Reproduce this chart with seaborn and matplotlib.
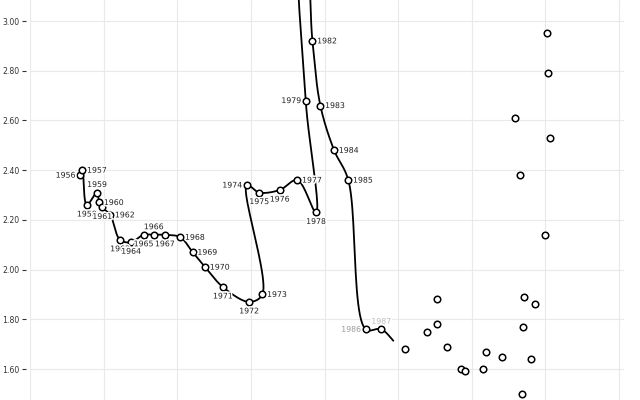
import numpy as np
import pandas as pd
import matplotlib
matplotlib.use("Agg")
import matplotlib.pyplot as plt
import matplotlib.patheffects as pe
import seaborn as sns

# miles driven per capita vs. gas price (2010 dollars), 1956-2010
years = list(range(1956, 2011))
miles = [3675, 3706, 3766, 3905, 3935, 3977, 4085, 4218, 4369, 4538,
         4676, 4827, 5038, 5207, 5376, 5617, 5973, 6154, 5943, 6111,
         6389, 6630, 6883, 6744, 6672, 6732, 6835, 6943, 7130, 7323,
         7558, 7770, 8089, 8397, 8529, 8535, 8662, 8855, 8909, 9150,
         9192, 9416, 9590, 9687, 9717, 9699, 9814, 9868, 9994, 10067,
         10037, 10025, 9880, 9657, 9596]
gas = [2.38, 2.40, 2.26, 2.31, 2.27, 2.25, 2.22, 2.12, 2.11, 2.14,
       2.14, 2.14, 2.13, 2.07, 2.01, 1.93, 1.87, 1.90, 2.34, 2.31,
       2.32, 2.36, 2.23, 2.68, 3.30, 3.30, 2.92, 2.66, 2.48, 2.36,
       1.76, 1.76, 1.68, 1.75, 1.88, 1.78, 1.69, 1.60, 1.59, 1.60,
       1.67, 1.65, 1.39, 1.50, 1.89, 1.77, 1.64, 1.86, 2.14, 2.53,
       2.79, 2.95, 3.31, 2.38, 2.61]
# label side for the years already revealed (1956-1987)
sides = ["left", "right", "bottom", "top", "right", "bottom", "right", "bottom",
         "bottom", "bottom", "top", "bottom", "right", "right", "right", "bottom",
         "bottom", "right", "left", "bottom", "bottom", "right", "bottom", "left",
         "left", "left", "right", "right", "right", "right", "left", "top"]
yticks = [1.60, 1.80, 2.00, 2.20, 2.40, 2.60, 2.80, 3.00]

df = pd.DataFrame({"year": years, "miles": miles, "gas": gas})

# pixel scale of the chart, used so the curve bends like the original
XK, YK = 0.0735, 248.6


def catmull_rom(xs, ys, n=24, alpha=0.5):
    # centripetal catmull-rom (d3.curveCatmullRom) as bezier segments
    p = np.column_stack([np.asarray(xs) * XK, np.asarray(ys) * YK]).astype(float)
    p = np.vstack([p[:1], p, p[-1:]])
    t = np.linspace(0, 1, n)[:, None]
    segs = []
    for i in range(1, len(p) - 2):
        p0, p1, p2, p3 = p[i - 1], p[i], p[i + 1], p[i + 2]
        l01 = np.hypot(*(p1 - p0))
        l12 = np.hypot(*(p2 - p1))
        l23 = np.hypot(*(p3 - p2))
        l01a, l12a, l23a = l01 ** alpha, l12 ** alpha, l23 ** alpha
        l01b, l12b, l23b = l01 ** (2 * alpha), l12 ** (2 * alpha), l23 ** (2 * alpha)
        b1 = p1.copy()
        if l01 > 1e-9:
            a = 2 * l01b + 3 * l01a * l12a + l12b
            m = 3 * l01a * (l01a + l12a)
            b1 = (p1 * a - p0 * l12b + p2 * l01b) / m
        b2 = p2.copy()
        if l23 > 1e-9:
            b = 2 * l23b + 3 * l23a * l12a + l12b
            m = 3 * l23a * (l23a + l12a)
            b2 = (p2 * b + p1 * l23b - p3 * l12b) / m
        seg = ((1 - t) ** 3 * p1 + 3 * (1 - t) ** 2 * t * b1
               + 3 * (1 - t) * t ** 2 * b2 + t ** 3 * p2)
        seg[:, 0] /= XK
        seg[:, 1] /= YK
        segs.append(seg)
    return segs


segs = catmull_rom(df["miles"], df["gas"])
n_lab = len(sides)
path = np.vstack(segs[:n_lab - 1])
last = segs[n_lab - 1]
path = np.vstack([path, last[: int(len(last) * 0.55)]])
line_df = pd.DataFrame({"x": path[:, 0], "y": path[:, 1]})

sns.set_theme(style="whitegrid")
plt.rcParams["font.family"] = ["DejaVu Sans"]

fig = plt.figure(figsize=(6.4, 4.0), dpi=100)
ax = fig.add_axes([0.0475, 0.0, 0.9275, 1.0])

sns.lineplot(data=line_df, x="x", y="y", sort=False, estimator=None,
             color="black", linewidth=1.3, ax=ax, zorder=2)
sns.scatterplot(data=df, x="miles", y="gas", s=22, color="white",
                edgecolor="black", linewidth=1.1, ax=ax, zorder=3)

offsets = {"left": (-3.4, 0, "right", "center"),
           "right": (3.4, 0, "left", "center"),
           "top": (0, 5.8, "center", "center"),
           "bottom": (0, -6.5, "center", "center")}
for i, side in enumerate(sides):
    dx, dy, ha, va = offsets[side]
    col = "#222222"
    if years[i] == 1986:
        col = "#999999"
    elif years[i] == 1987:
        col = "#bbbbbb"
    ax.annotate(str(years[i]), (miles[i], gas[i]), xytext=(dx, dy),
                textcoords="offset points", ha=ha, va=va, fontsize=5.6,
                color=col, zorder=4,
                path_effects=[pe.withStroke(linewidth=2.2, foreground="white")])

ax.set_xlim(3000, 11072)
ax.set_ylim(1.4753, 3.0845)
ax.set_xticks(range(3000, 12000, 1000))
ax.set_yticks(yticks)
ax.set_yticklabels([f"{v:.2f}" for v in yticks])
ax.tick_params(axis="x", bottom=False, labelbottom=False)
ax.tick_params(axis="y", left=True, length=2.9, width=0.8, color="#333333",
               pad=2.0, labelsize=5.6, labelcolor="#333333")
ax.grid(True, color="#e9e9e9", linewidth=0.8)
for s in ax.spines.values():
    s.set_visible(False)
ax.spines["left"].set_position(("outward", 2.9))
ax.set_xlabel("")
ax.set_ylabel("")

fig.savefig("out.png", dpi=100)
